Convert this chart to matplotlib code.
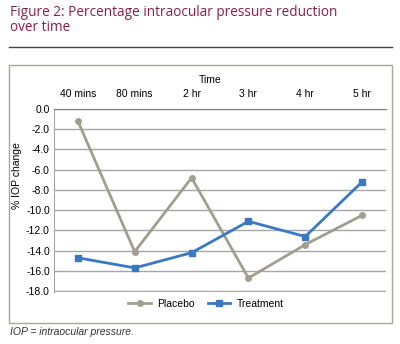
import matplotlib
matplotlib.use("Agg")
import matplotlib.pyplot as plt
from matplotlib.patches import Rectangle
from matplotlib.lines import Line2D

categories = ["40 mins", "80 mins", "2 hr", "3 hr", "4 hr", "5 hr"]
placebo = [-1.2, -14.1, -6.8, -16.7, -13.4, -10.5]
treatment = [-14.7, -15.7, -14.2, -11.1, -12.6, -7.2]
yticks = [0, -2, -4, -6, -8, -10, -12, -14, -16, -18]

plt.rcParams["font.family"] = ["Liberation Sans", "DejaVu Sans"]

W, H = 400, 344
fig = plt.figure(figsize=(W / 100, H / 100), dpi=100)
fig.patch.set_facecolor("white")

def fx(x):
    return x / W

def fy(y):
    return 1 - y / H

# Title
fig.text(fx(10), fy(20), "Figure 2: Percentage intraocular pressure reduction\nover time",
         color="#8B1E47", fontsize=9.8, family="Open Sans", va="center", ha="left",
         linespacing=1.05)
fig.add_artist(Line2D([fx(9), fx(392)], [fy(47), fy(47)], color="#444444", lw=1.0))

# Chart box
fig.add_artist(Rectangle((fx(9), fy(323)), fx(392) - fx(9), fy(65) - fy(323),
                         fill=False, edgecolor="#A8A79B", lw=1.0))

ax = fig.add_axes([fx(54), fy(292), fx(386) - fx(54), fy(109) - fy(292)])
x = list(range(len(categories)))
ax.plot(x, placebo, color="#A09F8F", lw=2, marker="o", markersize=4, label="Placebo")
ax.plot(x, treatment, color="#3A78C3", lw=2, marker="s", markersize=4, label="Treatment")

ax.set_xlim(-0.42, 5.42)
ax.set_ylim(-18.08, 0)
ax.set_yticks(yticks)
ax.set_yticklabels([f"{v:.1f}" for v in yticks], fontsize=7.5)
ax.xaxis.tick_top()
ax.set_xticks(x)
ax.set_xticklabels(categories, fontsize=7.5)
ax.tick_params(axis="x", length=0, pad=7)
ax.tick_params(axis="y", length=0, pad=3)
ax.grid(axis="y", color="#A6A6A6", lw=1)
ax.set_axisbelow(True)
for s in ["right", "bottom"]:
    ax.spines[s].set_visible(False)
ax.spines["top"].set_color("#7F7F7F")
ax.spines["left"].set_color("#A6A6A6")

fig.text(fx(210), fy(80), "Time", fontsize=7.5, ha="center", va="center")
fig.text(fx(17), fy(176), "% IOP change", fontsize=7.5, rotation=90, ha="center", va="center")

fig.legend(loc="center", bbox_to_anchor=(fx(206), fy(304)), ncol=2, frameon=False,
           fontsize=7.5, handlelength=2.2, columnspacing=1.2, handletextpad=0.6)

fig.text(fx(10), fy(332), "IOP = intraocular pressure.", fontsize=7.5, style="italic",
         color="#333333", ha="left", va="center")

fig.savefig("out.png", dpi=100)
